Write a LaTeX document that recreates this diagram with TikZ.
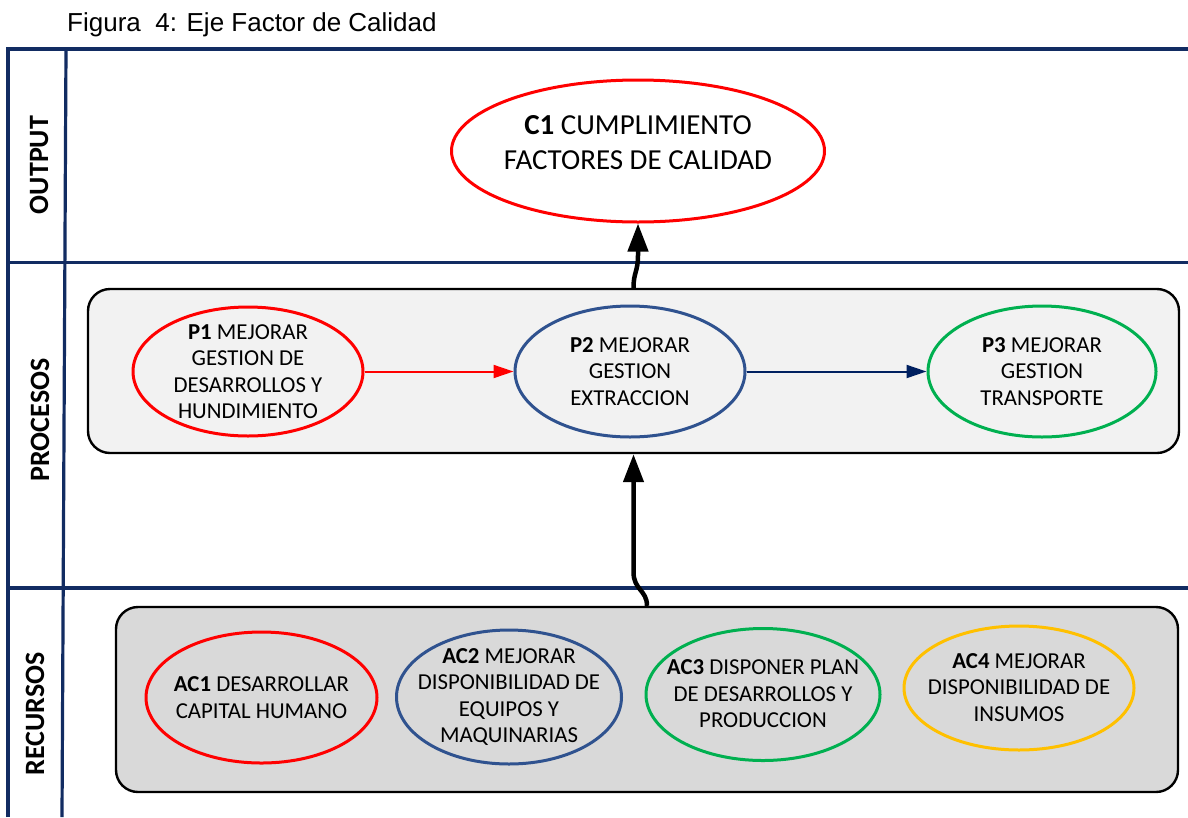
\documentclass[tikz,border=0pt]{standalone}
\usepackage{fontspec}
\setmainfont{Carlito}
\newfontfamily\titlefont{Liberation Sans}
\usetikzlibrary{shapes.geometric,arrows.meta,calc}

\definecolor{lanecol}{RGB}{18,44,98}
\definecolor{okred}{RGB}{255,0,0}
\definecolor{okblue}{RGB}{47,82,143}
\definecolor{okgreen}{RGB}{0,176,80}
\definecolor{okamber}{RGB}{255,192,0}
\definecolor{arrnavy}{RGB}{0,32,96}
\definecolor{procfill}{RGB}{242,242,242}
\definecolor{resfill}{RGB}{217,217,217}

\tikzset{
  laneline/.style={draw=lanecol, line width=3.2pt},
  lanelabel/.style={rotate=90, font=\bfseries\fontsize{28}{30}\selectfont, inner sep=0pt},
  oval/.style={ellipse, draw=#1, line width=3pt, inner sep=0pt},
  txt/.style={font=\fontsize{22.8}{26.5}\selectfont, align=center, text=black, inner sep=0pt},
  bigtxt/.style={font=\fontsize{29}{35}\selectfont, align=center, text=black, inner sep=0pt},
  panel/.style={draw=black, line width=2.4pt, rounded corners=22pt, inner sep=0pt},
  bigarrow/.style={draw=black, line width=4.5pt, -{Triangle[length=28pt,width=20pt]}},
  flow/.style={line width=2pt, -{Triangle[length=20pt,width=13pt]}},
}

\begin{document}
\begin{tikzpicture}[x=1pt,y=-1pt]
\useasboundingbox (0,0) rectangle (1188,817);
\fill[white] (0,0) rectangle (1188,817);

% caption
\node[anchor=base west, font=\titlefont\fontsize{26}{28}\selectfont, inner sep=0pt] (title) at (67,31) {Figura~~4: Eje Factor de Calidad};

% swimlane frame
\draw[laneline, line join=miter] (8,817) -- (8,49) -- (1188,49);
\draw[laneline] (66,49) -- (62,817);
\draw[laneline] (8,262.5) -- (1188,262.5);
\draw[laneline] (8,588) -- (1188,588);

% lane titles
\node[lanelabel] (lout) at (39,165) {OUTPUT};
\node[lanelabel] (lproc) at (40,420) {PROCESOS};
\node[lanelabel] (lres) at (35,714) {RECURSOS};

% output
\node[oval=okred, fill=white, minimum width=373pt, minimum height=142pt] (c1) at (638,151) {};
\node[bigtxt] (c1t) at (638,143) {\textbf{C1} CUMPLIMIENTO\\FACTORES DE CALIDAD};

% processes
\node[panel, fill=procfill, minimum width=1091pt, minimum height=164pt] (pbox) at (633.5,371) {};
\node[oval=okred, minimum width=230pt, minimum height=129pt] (p1) at (248,371.5) {};
\node[txt] (p1t) at (p1) {\textbf{P1} MEJORAR\\GESTION DE\\DESARROLLOS Y\\HUNDIMIENTO};
\node[oval=okblue, minimum width=230pt, minimum height=131pt] (p2) at (630,371.5) {};
\node[txt] (p2t) at (p2) {\textbf{P2} MEJORAR\\GESTION\\EXTRACCION};
\node[oval=okgreen, minimum width=228pt, minimum height=131pt] (p3) at (1042,371.5) {};
\node[txt] (p3t) at (p3) {\textbf{P3} MEJORAR\\GESTION\\TRANSPORTE};

\draw[flow, okred] (p1.east) -- (p2.west);
\draw[flow, arrnavy] (p2.east) -- (p3.west);

% resources
\node[panel, fill=resfill, minimum width=1062pt, minimum height=185pt] (rbox) at (647,699.5) {};
\node[oval=okred, minimum width=231pt, minimum height=131pt] (ac1) at (261.5,697.5) {};
\node[txt] (ac1t) at (ac1) {\textbf{AC1} DESARROLLAR\\CAPITAL HUMANO};
\node[oval=okblue, minimum width=225pt, minimum height=134pt] (ac2) at (509,697) {};
\node[txt] (ac2t) at (ac2) {\textbf{AC2} MEJORAR\\DISPONIBILIDAD DE\\EQUIPOS Y\\MAQUINARIAS};
\node[oval=okgreen, minimum width=234pt, minimum height=132pt] (ac3) at (763,694.5) {};
\node[txt] (ac3t) at (763,694) {\textbf{AC3} DISPONER PLAN\\DE DESARROLLOS Y\\PRODUCCION};
\node[oval=okamber, minimum width=230pt, minimum height=124pt] (ac4) at (1019,688) {};
\node[txt] (ac4t) at (1019,687.5) {\textbf{AC4} MEJORAR\\DISPONIBILIDAD DE\\INSUMOS};

% links between levels
\coordinate (bendr) at (633.5,572);
\draw[bigarrow] (rbox.north) .. controls (647,590) and (633.5,590) .. (bendr) -- (pbox.south);
\coordinate (bendp) at (638,255);
\draw[bigarrow] (pbox.north) .. controls (633.5,272) and (638,272) .. (bendp) -- (c1.south);
\end{tikzpicture}
\end{document}
